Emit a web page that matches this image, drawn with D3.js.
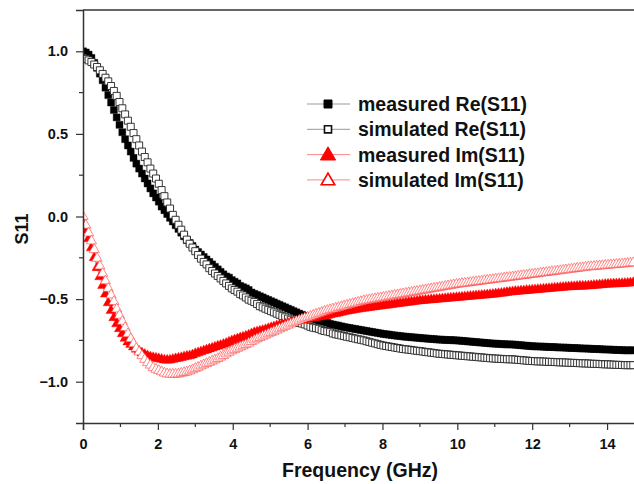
<!DOCTYPE html>
<html>
<head>
<meta charset="utf-8">
<script src="https://cdn.jsdelivr.net/npm/d3@7"></script>
<style>
  body { margin: 0; background: #fff; }
  text { font-family: Arial, "Liberation Sans", sans-serif; font-weight: bold; }
</style>
</head>
<body>
<div id="chart"></div>
<script>
// sweep step (GHz), 201-point sweep; only 0 .. 14.7 GHz is visible
const freqStep = 0.075;

// values, 8 samples (0.6 GHz) per row
const measuredRe = [
  1.00, 0.993, 0.98, 0.96, 0.93, 0.90, 0.865, 0.825,
  0.78, 0.735, 0.69, 0.645, 0.60, 0.555, 0.51, 0.468,
  0.43, 0.393, 0.355, 0.32, 0.29, 0.26, 0.23, 0.20,
  0.17, 0.14, 0.115, 0.09, 0.06, 0.038, 0.015, -0.008,
  -0.03, -0.053, -0.075, -0.098, -0.12, -0.143, -0.16, -0.178,
  -0.20, -0.215, -0.23, -0.245, -0.26, -0.275, -0.29, -0.305,
  -0.32, -0.335, -0.35, -0.363, -0.37, -0.385, -0.395, -0.405,
  -0.42, -0.428, -0.435, -0.445, -0.46, -0.468, -0.475, -0.483,
  -0.49, -0.498, -0.505, -0.513, -0.52, -0.528, -0.535, -0.543,
  -0.55, -0.558, -0.565, -0.573, -0.58, -0.588, -0.595, -0.603,
  -0.61, -0.614, -0.618, -0.623, -0.63, -0.634, -0.638, -0.643,
  -0.65, -0.654, -0.658, -0.661, -0.665, -0.669, -0.672, -0.675,
  -0.678, -0.681, -0.684, -0.687, -0.69, -0.693, -0.696, -0.699,
  -0.702, -0.705, -0.708, -0.711, -0.713, -0.715, -0.718, -0.72,
  -0.722, -0.724, -0.726, -0.728, -0.729, -0.731, -0.732, -0.734,
  -0.735, -0.737, -0.738, -0.74, -0.741, -0.742, -0.744, -0.745,
  -0.746, -0.747, -0.748, -0.748, -0.749, -0.75, -0.751, -0.753,
  -0.754, -0.756, -0.757, -0.759, -0.76, -0.762, -0.763, -0.765,
  -0.766, -0.768, -0.769, -0.77, -0.771, -0.772, -0.773, -0.774,
  -0.774, -0.775, -0.776, -0.778, -0.779, -0.781, -0.782, -0.784,
  -0.785, -0.786, -0.787, -0.787, -0.788, -0.789, -0.79, -0.79,
  -0.791, -0.792, -0.793, -0.793, -0.794, -0.795, -0.796, -0.796,
  -0.797, -0.798, -0.799, -0.799, -0.80, -0.801, -0.802, -0.802,
  -0.803, -0.804, -0.805, -0.805, -0.806, -0.807, -0.808, -0.808,
  -0.809, -0.81, -0.81, -0.81, -0.81
];

const simulatedRe = [
  0.96, 0.953, 0.945, 0.935, 0.92, 0.905, 0.885, 0.863,
  0.84, 0.818, 0.79, 0.76, 0.73, 0.693, 0.655, 0.618,
  0.58, 0.543, 0.505, 0.468, 0.43, 0.393, 0.36, 0.328,
  0.29, 0.26, 0.23, 0.198, 0.16, 0.123, 0.085, 0.048,
  0.01, -0.02, -0.05, -0.08, -0.11, -0.14, -0.165, -0.188,
  -0.21, -0.233, -0.255, -0.275, -0.29, -0.313, -0.33, -0.345,
  -0.36, -0.375, -0.39, -0.405, -0.42, -0.435, -0.445, -0.455,
  -0.47, -0.478, -0.49, -0.503, -0.51, -0.518, -0.53, -0.543,
  -0.55, -0.558, -0.565, -0.573, -0.58, -0.588, -0.595, -0.603,
  -0.61, -0.618, -0.625, -0.633, -0.64, -0.644, -0.648, -0.653,
  -0.66, -0.668, -0.673, -0.676, -0.68, -0.688, -0.693, -0.696,
  -0.70, -0.708, -0.713, -0.716, -0.72, -0.724, -0.728, -0.731,
  -0.735, -0.739, -0.743, -0.746, -0.75, -0.755, -0.759, -0.764,
  -0.768, -0.773, -0.777, -0.781, -0.784, -0.787, -0.79, -0.793,
  -0.796, -0.799, -0.802, -0.804, -0.806, -0.808, -0.811, -0.813,
  -0.815, -0.817, -0.82, -0.822, -0.824, -0.826, -0.829, -0.831,
  -0.832, -0.834, -0.835, -0.837, -0.838, -0.84, -0.841, -0.843,
  -0.844, -0.846, -0.847, -0.849, -0.85, -0.852, -0.853, -0.855,
  -0.856, -0.858, -0.859, -0.86, -0.861, -0.862, -0.863, -0.864,
  -0.864, -0.865, -0.866, -0.868, -0.869, -0.871, -0.872, -0.874,
  -0.875, -0.876, -0.877, -0.877, -0.878, -0.879, -0.88, -0.88,
  -0.881, -0.882, -0.883, -0.883, -0.884, -0.885, -0.886, -0.886,
  -0.887, -0.888, -0.889, -0.889, -0.89, -0.891, -0.892, -0.892,
  -0.893, -0.894, -0.895, -0.895, -0.896, -0.897, -0.898, -0.898,
  -0.899, -0.90, -0.90, -0.90, -0.90
];

const measuredIm = [
  -0.03, -0.083, -0.135, -0.19, -0.25, -0.31, -0.365, -0.418,
  -0.47, -0.523, -0.57, -0.613, -0.65, -0.68, -0.71, -0.738,
  -0.76, -0.775, -0.79, -0.804, -0.815, -0.826, -0.835, -0.843,
  -0.85, -0.854, -0.858, -0.861, -0.865, -0.869, -0.87, -0.869,
  -0.865, -0.861, -0.858, -0.854, -0.85, -0.846, -0.843, -0.838,
  -0.83, -0.825, -0.819, -0.813, -0.808, -0.802, -0.797, -0.791,
  -0.785, -0.78, -0.774, -0.768, -0.76, -0.753, -0.747, -0.741,
  -0.735, -0.73, -0.724, -0.718, -0.71, -0.703, -0.698, -0.694,
  -0.69, -0.685, -0.679, -0.673, -0.668, -0.662, -0.658, -0.654,
  -0.65, -0.646, -0.643, -0.639, -0.635, -0.631, -0.628, -0.624,
  -0.62, -0.617, -0.614, -0.611, -0.608, -0.605, -0.602, -0.599,
  -0.595, -0.591, -0.588, -0.584, -0.58, -0.576, -0.573, -0.57,
  -0.567, -0.564, -0.561, -0.558, -0.555, -0.553, -0.551, -0.548,
  -0.546, -0.544, -0.542, -0.539, -0.537, -0.535, -0.533, -0.53,
  -0.528, -0.526, -0.524, -0.521, -0.519, -0.517, -0.515, -0.512,
  -0.51, -0.509, -0.507, -0.506, -0.504, -0.503, -0.501, -0.50,
  -0.498, -0.497, -0.495, -0.494, -0.492, -0.491, -0.489, -0.488,
  -0.486, -0.485, -0.483, -0.482, -0.48, -0.479, -0.477, -0.476,
  -0.474, -0.473, -0.471, -0.469, -0.467, -0.465, -0.463, -0.46,
  -0.458, -0.456, -0.454, -0.453, -0.451, -0.45, -0.448, -0.447,
  -0.445, -0.444, -0.442, -0.441, -0.439, -0.438, -0.436, -0.435,
  -0.433, -0.432, -0.43, -0.429, -0.427, -0.426, -0.425, -0.424,
  -0.423, -0.422, -0.422, -0.421, -0.42, -0.419, -0.417, -0.416,
  -0.414, -0.413, -0.411, -0.41, -0.409, -0.408, -0.408, -0.407,
  -0.406, -0.405, -0.404, -0.402, -0.40
];

const simulatedIm = [
  0.00, -0.053, -0.10, -0.148, -0.20, -0.253, -0.30, -0.345,
  -0.39, -0.435, -0.475, -0.515, -0.56, -0.598, -0.635, -0.673,
  -0.71, -0.74, -0.77, -0.798, -0.82, -0.843, -0.865, -0.885,
  -0.90, -0.915, -0.925, -0.933, -0.94, -0.948, -0.953, -0.955,
  -0.955, -0.955, -0.953, -0.949, -0.945, -0.941, -0.935, -0.928,
  -0.92, -0.913, -0.905, -0.898, -0.89, -0.883, -0.875, -0.868,
  -0.86, -0.851, -0.842, -0.832, -0.822, -0.813, -0.805, -0.798,
  -0.79, -0.783, -0.775, -0.767, -0.757, -0.748, -0.74, -0.733,
  -0.725, -0.718, -0.71, -0.703, -0.695, -0.688, -0.68, -0.673,
  -0.665, -0.658, -0.65, -0.643, -0.635, -0.628, -0.621, -0.615,
  -0.61, -0.604, -0.598, -0.592, -0.586, -0.58, -0.574, -0.569,
  -0.564, -0.56, -0.555, -0.551, -0.546, -0.542, -0.537, -0.533,
  -0.528, -0.524, -0.519, -0.515, -0.51, -0.507, -0.504, -0.501,
  -0.498, -0.495, -0.492, -0.489, -0.486, -0.483, -0.48, -0.477,
  -0.474, -0.471, -0.468, -0.465, -0.462, -0.459, -0.456, -0.453,
  -0.45, -0.447, -0.444, -0.441, -0.438, -0.435, -0.432, -0.429,
  -0.426, -0.423, -0.42, -0.417, -0.414, -0.411, -0.409, -0.406,
  -0.404, -0.402, -0.40, -0.397, -0.395, -0.393, -0.391, -0.388,
  -0.386, -0.384, -0.382, -0.379, -0.377, -0.375, -0.373, -0.37,
  -0.368, -0.366, -0.364, -0.361, -0.359, -0.357, -0.355, -0.352,
  -0.35, -0.348, -0.346, -0.343, -0.341, -0.339, -0.337, -0.334,
  -0.332, -0.33, -0.328, -0.325, -0.323, -0.321, -0.319, -0.316,
  -0.314, -0.312, -0.31, -0.307, -0.305, -0.304, -0.302, -0.301,
  -0.299, -0.298, -0.296, -0.295, -0.293, -0.292, -0.29, -0.289,
  -0.287, -0.286, -0.284, -0.282, -0.28
];

const seriesNames = ['measured Re(S11)', 'simulated Re(S11)', 'measured Im(S11)', 'simulated Im(S11)'];
const xTicks = [0, 2, 4, 6, 8, 10, 12, 14];
const xMinorTicks = [1, 3, 5, 7, 9, 11, 13];
const yTicks = [-1.0, -0.5, 0.0, 0.5, 1.0];
const yMinorTicks = [-0.75, -0.25, 0.25, 0.75];

const svgWidth = 634;
const svgHeight = 484;
const margin = { top: 10, left: 83, bottom: 61 };
const plotRight = 644.5; // frame runs past the window edge

const svg = d3.select('#chart').append('svg')
  .attr('width', svgWidth)
  .attr('height', svgHeight);

const x = d3.scaleLinear().domain([0, 15]).range([margin.left, plotRight]);
const y = d3.scaleLinear().domain([-1.25, 1.25]).range([svgHeight - margin.bottom, margin.top]);

const styles = [
  { values: measuredRe, shape: d3.symbolSquare, size: 49, fill: '#000', stroke: '#000', sw: 0.4, line: '#888' },
  { values: simulatedRe, shape: d3.symbolSquare, size: 49, fill: '#fff', stroke: '#222', sw: 0.9, line: '#888' },
  { values: measuredIm, shape: d3.symbolTriangle, size: 45, fill: '#f00', stroke: '#f00', sw: 0.4, line: '#f66' },
  { values: simulatedIm, shape: d3.symbolTriangle, size: 45, fill: '#fff', stroke: '#ff3a3a', sw: 0.6, line: '#f66' }
];

svg.append('clipPath').attr('id', 'plotClip')
  .append('rect')
  .attr('x', margin.left).attr('y', margin.top)
  .attr('width', plotRight - margin.left)
  .attr('height', y(-1.25) - margin.top);

const plot = svg.append('g').attr('clip-path', 'url(#plotClip)');

const line = d3.line()
  .x((d, i) => x(i * freqStep))
  .y(d => y(d));

styles.forEach(s => {
  const g = plot.append('g');
  g.append('path')
    .attr('d', line(s.values))
    .attr('fill', 'none')
    .attr('stroke', s.line)
    .attr('stroke-width', 0.8);
  const sym = d3.symbol().type(s.shape).size(s.size);
  g.selectAll('path.pt')
    .data(s.values)
    .enter()
    .append('path')
    .attr('class', 'pt')
    .attr('d', sym)
    .attr('transform', (d, i) => 'translate(' + x(i * freqStep) + ',' + y(d) + ')')
    .attr('fill', s.fill)
    .attr('stroke', s.stroke)
    .attr('stroke-width', s.sw);
});

// frame
const axisColor = '#333';
svg.append('line')
  .attr('x1', margin.left).attr('x2', plotRight)
  .attr('y1', margin.top).attr('y2', margin.top)
  .attr('stroke', axisColor).attr('stroke-width', 1.5);

// axes
const xAxis = d3.axisBottom(x).tickValues(xTicks).tickFormat(d3.format('d')).tickSizeOuter(0).tickSize(7).tickPadding(9);
const gX = svg.append('g')
  .attr('transform', 'translate(0,' + y(-1.25) + ')')
  .call(xAxis);
svg.append('g')
  .attr('transform', 'translate(0,' + y(-1.25) + ')')
  .selectAll('line')
  .data(xMinorTicks)
  .enter()
  .append('line')
  .attr('x1', d => x(d)).attr('x2', d => x(d))
  .attr('y1', 0).attr('y2', 4)
  .attr('stroke', axisColor).attr('stroke-width', 1.2);

const yAxis = d3.axisLeft(y).tickValues(yTicks).tickFormat(d3.format('.1f')).tickSizeOuter(0).tickSize(7).tickPadding(8);
const gY = svg.append('g')
  .attr('transform', 'translate(' + margin.left + ',0)')
  .call(yAxis);
svg.append('g')
  .attr('transform', 'translate(' + margin.left + ',0)')
  .selectAll('line')
  .data(yMinorTicks)
  .enter()
  .append('line')
  .attr('x1', 0).attr('x2', -4)
  .attr('y1', d => y(d)).attr('y2', d => y(d))
  .attr('stroke', axisColor).attr('stroke-width', 1.2);

[gX, gY].forEach(g => {
  g.select('.domain').attr('stroke', axisColor).attr('stroke-width', 1.5);
  g.selectAll('.tick line').attr('stroke', axisColor).attr('stroke-width', 1.2);
  g.selectAll('.tick text')
    .attr('fill', '#111')
    .style('font-size', '14.5px')
    .style('font-family', 'Arial, "Liberation Sans", sans-serif')
    .style('font-weight', 'bold');
});

// axis titles
svg.append('text')
  .attr('x', 360).attr('y', 477)
  .attr('text-anchor', 'middle')
  .style('font-size', '19.5px')
  .attr('fill', '#111')
  .text('Frequency (GHz)');

svg.append('text')
  .attr('transform', 'translate(28,229) rotate(-90)')
  .attr('text-anchor', 'middle')
  .style('font-size', '18px')
  .attr('fill', '#111')
  .text('S11');

// legend
const legendStyles = [
  { shape: d3.symbolSquare, size: 64, fill: '#000', stroke: '#000', sw: 1, line: '#999' },
  { shape: d3.symbolSquare, size: 50, fill: '#fff', stroke: '#111', sw: 1.6, line: '#999' },
  { shape: d3.symbolTriangle, size: 100, fill: '#f00', stroke: '#f00', sw: 1, line: '#f88' },
  { shape: d3.symbolTriangle, size: 80, fill: '#fff', stroke: '#f00', sw: 1.6, line: '#f88' }
];
const legend = svg.append('g');
seriesNames.forEach((name, i) => {
  const s = legendStyles[i];
  const row = legend.append('g').attr('transform', 'translate(0,' + (104 + i * 25.3) + ')');
  row.append('line')
    .attr('x1', 307).attr('x2', 350).attr('y1', 0).attr('y2', 0)
    .attr('stroke', s.line).attr('stroke-width', 1);
  row.append('path')
    .attr('d', d3.symbol().type(s.shape).size(s.size))
    .attr('transform', 'translate(328,' + (s.shape === d3.symbolTriangle ? 1 : 0) + ')')
    .attr('fill', s.fill)
    .attr('stroke', s.stroke)
    .attr('stroke-width', s.sw);
  row.append('text')
    .attr('x', 358).attr('y', 7)
    .style('font-size', '19.5px')
    .attr('fill', '#111')
    .text(name);
});
</script>
</body>
</html>
